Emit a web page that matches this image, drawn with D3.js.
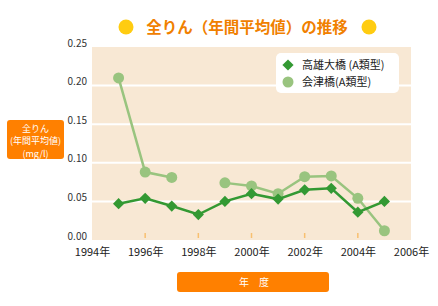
<!DOCTYPE html>
<html>
<head>
<meta charset="utf-8">
<script src="https://cdn.jsdelivr.net/npm/d3@7"></script>
<style>
  body { margin: 0; background: #fff; }
  text { font-family: "Noto Sans CJK JP", "Noto Sans", sans-serif; }
</style>
</head>
<body>
<div id="chart"></div>
<script>
// years on the x axis
var years = [1995, 1996, 1997, 1998, 1999, 2000, 2001, 2002, 2003, 2004, 2005];
// 高雄大橋 (A類型)
var takaoValues = [0.047, 0.054, 0.044, 0.033, 0.050, 0.060, 0.053, 0.065, 0.067, 0.036, 0.050];
// 会津橋(A類型) - no value for 1998
var aizuValues = [0.210, 0.088, 0.081, null, 0.074, 0.070, 0.060, 0.082, 0.083, 0.054, 0.012];
var yTicks = [0, 0.05, 0.10, 0.15, 0.20, 0.25];
var xTicks = [1994, 1996, 1998, 2000, 2002, 2004, 2006];
var seriesNames = ['高雄大橋 (A類型)', '会津橋(A類型)'];

var width = 438, height = 306;
var margin = { top: 47, right: 27, bottom: 66, left: 92 };
var plotW = width - margin.left - margin.right,
  plotH = height - margin.top - margin.bottom;

var svg = d3.select('#chart').append('svg')
  .attr('width', width)
  .attr('height', height);

// title with yellow dots
svg.append('circle').attr('cx', 126).attr('cy', 27).attr('r', 7.5).attr('fill', '#ffcc11');
svg.append('circle').attr('cx', 369).attr('cy', 27).attr('r', 7.5).attr('fill', '#ffcc11');
svg.append('text')
  .attr('x', 247).attr('y', 32.5)
  .attr('text-anchor', 'middle')
  .attr('font-size', 15.5)
  .attr('font-weight', 'bold')
  .attr('fill', '#f08000')
  .text('全りん（年間平均値）の推移');

var g = svg.append('g')
  .attr('transform', 'translate(' + margin.left + ',' + margin.top + ')');

var x = d3.scaleLinear().domain([1994, 2006]).range([0, plotW]);
var y = d3.scaleLinear().domain([0, 0.25]).range([plotH, 0]);

// plot background
g.append('rect')
  .attr('width', plotW).attr('height', plotH)
  .attr('fill', '#f8e8d4');

// horizontal gridlines
g.selectAll('.grid')
  .data(yTicks.slice(1, -1))
  .enter().append('line')
  .attr('x1', 0).attr('x2', plotW)
  .attr('y1', function (d) { return y(d); })
  .attr('y2', function (d) { return y(d); })
  .attr('stroke', '#fff')
  .attr('stroke-width', 2);

// small orange tick marks inside the plot bottom
g.selectAll('.xtick')
  .data(xTicks.slice(1, -1))
  .enter().append('line')
  .attr('x1', function (d) { return x(d); })
  .attr('x2', function (d) { return x(d); })
  .attr('y1', plotH - 7).attr('y2', plotH - 2)
  .attr('stroke', '#f8c070')
  .attr('stroke-width', 1.5);

// y axis labels
var yAxis = g.append('g')
  .call(d3.axisLeft(y).tickValues(yTicks).tickFormat(d3.format('.2f')).tickSize(0).tickPadding(5));
yAxis.select('.domain').remove();
yAxis.selectAll('text')
  .attr('font-size', 10)
  .attr('fill', '#333')
  .attr('dy', '-0.1em');

// x axis labels
var xAxis = g.append('g')
  .attr('transform', 'translate(0,' + plotH + ')')
  .call(d3.axisBottom(x).tickValues(xTicks).tickFormat(function (d) { return d + '年'; }).tickSize(0).tickPadding(8));
xAxis.select('.domain').remove();
xAxis.selectAll('text')
  .attr('font-size', 11)
  .attr('fill', '#222');

// series lines
var line = d3.line()
  .defined(function (d) { return d[1] !== null; })
  .x(function (d) { return x(d[0]); })
  .y(function (d) { return y(d[1]); });

var takao = years.map(function (yr, i) { return [yr, takaoValues[i]]; });
var aizu = years.map(function (yr, i) { return [yr, aizuValues[i]]; });

g.append('path')
  .datum(aizu)
  .attr('d', line)
  .attr('fill', 'none')
  .attr('stroke', '#99c47f')
  .attr('stroke-width', 2.5);

g.selectAll('.aizu')
  .data(aizu.filter(function (d) { return d[1] !== null; }))
  .enter().append('circle')
  .attr('cx', function (d) { return x(d[0]); })
  .attr('cy', function (d) { return y(d[1]); })
  .attr('r', 5.5)
  .attr('fill', '#99c47f');

g.append('path')
  .datum(takao)
  .attr('d', line)
  .attr('fill', 'none')
  .attr('stroke', '#339933')
  .attr('stroke-width', 2.5);

var diamond = d3.symbol().type(d3.symbolDiamond2).size(80);
g.selectAll('.takao')
  .data(takao)
  .enter().append('path')
  .attr('d', diamond)
  .attr('transform', function (d) { return 'translate(' + x(d[0]) + ',' + y(d[1]) + ')'; })
  .attr('fill', '#339933');

// legend
var legend = svg.append('g').attr('transform', 'translate(276,53)');
legend.append('rect')
  .attr('width', 123).attr('height', 40).attr('rx', 5)
  .attr('fill', '#fff');
legend.append('path')
  .attr('d', diamond)
  .attr('transform', 'translate(12,12)')
  .attr('fill', '#339933');
legend.append('circle')
  .attr('cx', 12).attr('cy', 29).attr('r', 5.5)
  .attr('fill', '#99c47f');
legend.selectAll('.ltext')
  .data(seriesNames)
  .enter().append('text')
  .attr('x', 26)
  .attr('y', function (d, i) { return 16 + i * 17; })
  .attr('font-size', 11)
  .attr('fill', '#222')
  .text(function (d) { return d; });

// y axis title box
svg.append('rect')
  .attr('x', 7).attr('y', 120).attr('width', 57).attr('height', 39).attr('rx', 3)
  .attr('fill', '#ff8000');
svg.selectAll('.ylab')
  .data(['全りん', '(年間平均値)', '(mg/l)'])
  .enter().append('text')
  .attr('x', 35.5)
  .attr('y', function (d, i) { return 131.5 + i * 12.5; })
  .attr('text-anchor', 'middle')
  .attr('font-size', 9)
  .attr('fill', '#fff')
  .text(function (d) { return d; });

// x axis title box
svg.append('rect')
  .attr('x', 177).attr('y', 272).attr('width', 152).attr('height', 20).attr('rx', 3)
  .attr('fill', '#ff8000');
svg.append('text')
  .attr('x', 254).attr('y', 286)
  .attr('text-anchor', 'middle')
  .attr('font-size', 10)
  .attr('fill', '#fff')
  .text('年\u3000度');
</script>
</body>
</html>
